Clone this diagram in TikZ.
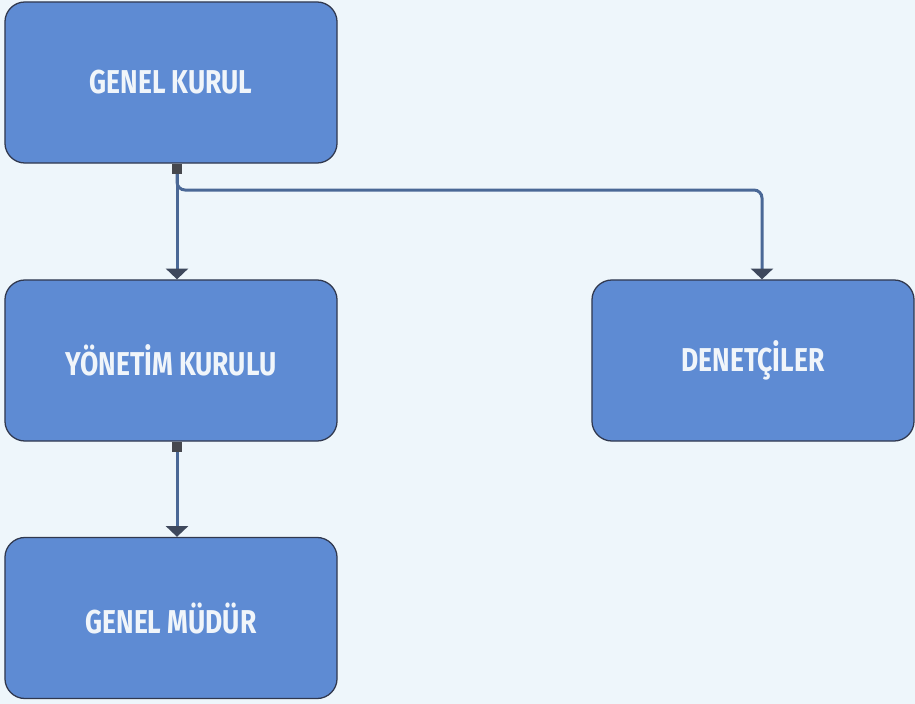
\documentclass[tikz,border=0pt]{standalone}
\usepackage{fontspec}
\setmainfont{Fira Sans}[FakeStretch=0.8]
\usepackage{xcolor}
\usepackage{tikz}
\usetikzlibrary{arrows.meta,positioning}

\definecolor{bgcol}{RGB}{238,246,251}
\definecolor{boxcol}{RGB}{94,139,211}
\definecolor{edgecol}{RGB}{48,56,78}
\definecolor{linecol}{RGB}{74,104,150}
\definecolor{headcol}{RGB}{62,72,92}
\definecolor{markcol}{RGB}{70,72,78}
\definecolor{txtcol}{RGB}{240,245,250}

\begin{document}
\begin{tikzpicture}[
  x=0.025cm, y=-0.025cm,
  unit/.style={
    rectangle,
    rounded corners=0.5cm,
    draw=edgecol,
    fill=boxcol,
    line width=0.9pt,
    minimum width=8.3cm,
    minimum height=4.025cm,
    align=center,
    text=txtcol,
    font=\fontsize{23.5}{26}\selectfont\bfseries
  },
  marker/.style={
    rectangle,
    fill=markcol,
    inner sep=0pt,
    minimum size=0.25cm
  },
  link/.style={
    draw=linecol,
    line width=0.075cm,
    -{Triangle[width=0.55cm,length=0.27cm,color=headcol]}
  }
]

% --- BACKGROUND ---
\path[fill=bgcol, use as bounding box] (0,0) rectangle (915,704);

% --- BOARDS (Left Side) ---
\node[unit] (gk) at (171,82.5) {GENEL KURUL};
\node[unit] (yk) at (171,360.5) {YÖNETİM KURULU};
\node[unit] (gm) at (171,618) {GENEL MÜDÜR};

% --- AUDIT (Right Side) ---
\node[unit, minimum width=8.05cm] (den) at (753,360.5) {DENETÇİLER};

% --- CONNECTORS ---
\node[marker, anchor=north] (gkmark) at ([xshift=0.15cm]gk.south) {};
\node[marker, anchor=north] (ykmark) at ([xshift=0.15cm]yk.south) {};
\coordinate (split) at (177,190);
\coordinate (denin) at ([xshift=0.225cm]den.north);

\draw[link] (gkmark.south) -- (yk.north -| gkmark);
\draw[link, rounded corners=0.2cm] (gkmark.south) |- (split -| denin) -- (denin);
\draw[link] (ykmark.south) -- (gm.north -| ykmark);

\end{tikzpicture}
\end{document}
